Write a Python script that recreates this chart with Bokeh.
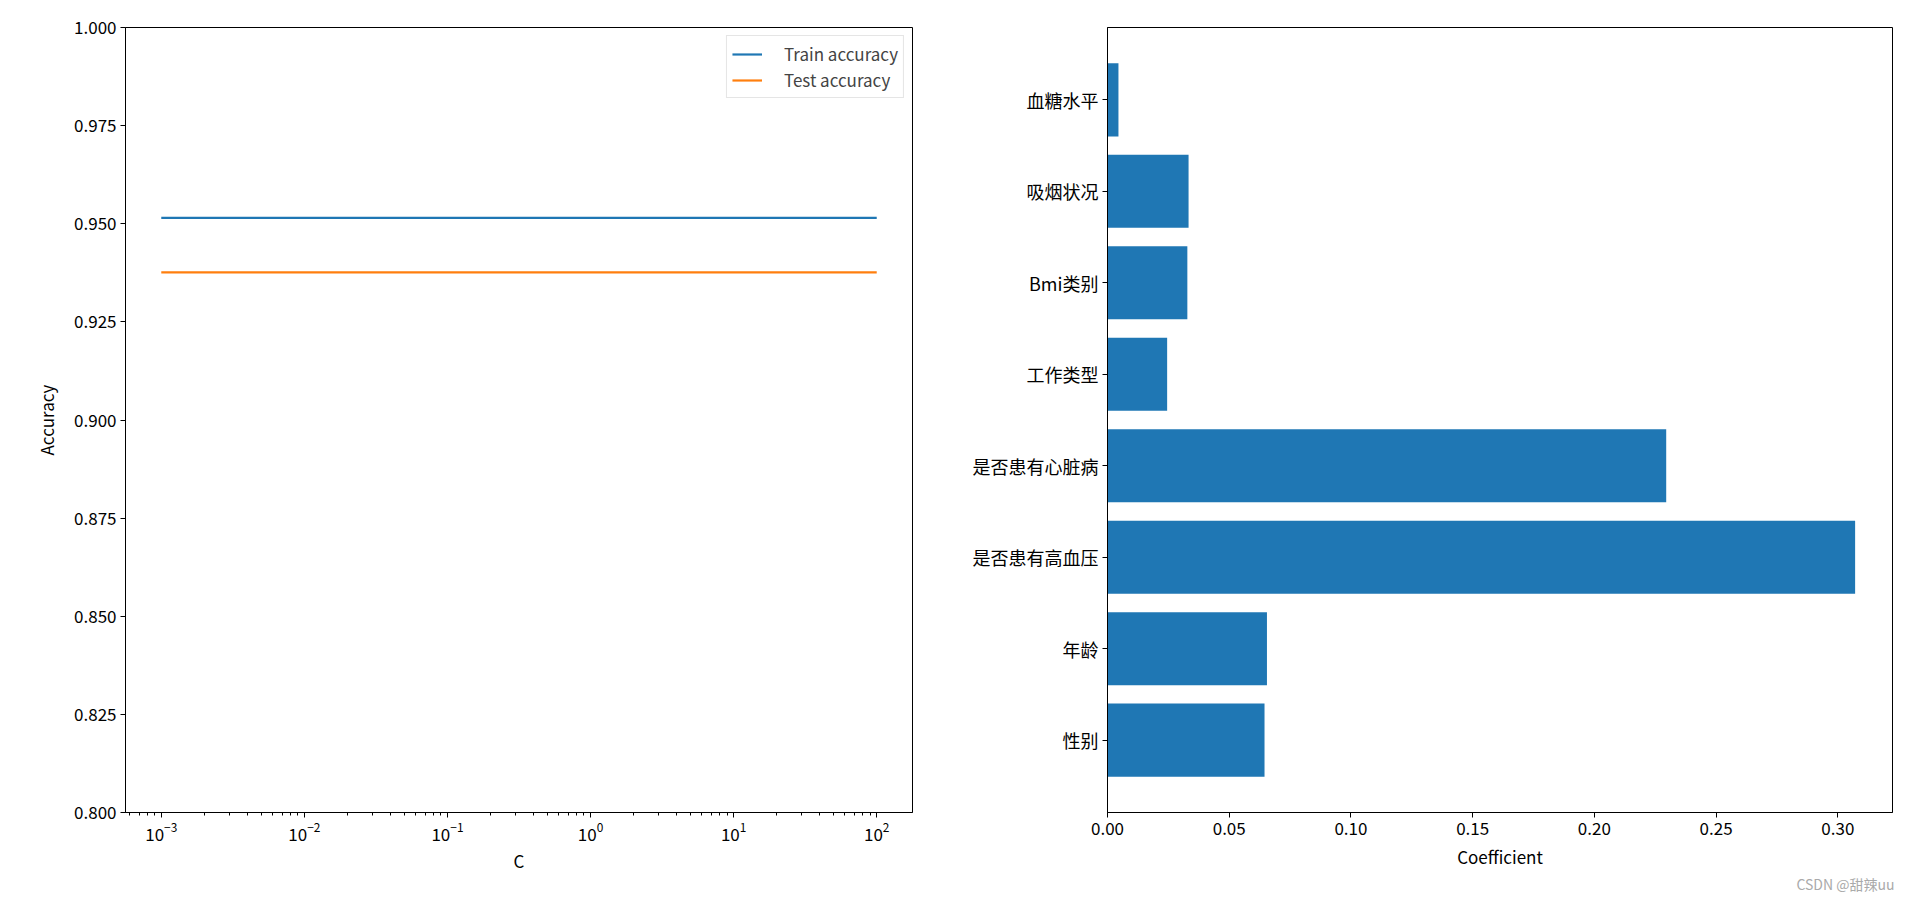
from bokeh.plotting import figure
from bokeh.layouts import row
from bokeh.models import (FixedTicker, NumeralTickFormatter, Range1d,
                          Legend, LegendItem, Title, ColumnDataSource)
from bokeh.embed import file_html
from bokeh.resources import INLINE

# ---------------- data ----------------
C_values = [0.001, 0.01, 0.1, 1, 10, 100]
train_acc = [0.9515, 0.9515, 0.9515, 0.9515, 0.9515, 0.9515]
test_acc = [0.9376, 0.9376, 0.9376, 0.9376, 0.9376, 0.9376]
acc_ticks = [0.800, 0.825, 0.850, 0.875, 0.900, 0.925, 0.950, 0.975, 1.000]

features = ["性别", "年龄", "是否患有高血压", "是否患有心脏病", "工作类型",
            "Bmi类别", "吸烟状况", "血糖水平"]
coefficients = [0.0645, 0.0655, 0.3071, 0.2295, 0.0245, 0.0328, 0.0333, 0.0045]
coef_ticks = [0.00, 0.05, 0.10, 0.15, 0.20, 0.25, 0.30]

FONT = "Noto Sans CJK SC"
FS = "17px"
BLUE = "#1f77b4"
ORANGE = "#ff7f0e"


def style(p):
    p.outline_line_color = "black"
    p.outline_line_alpha = 1
    p.outline_line_width = 1
    p.xgrid.visible = False
    p.ygrid.visible = False
    for ax in p.xaxis + p.yaxis:
        ax.major_label_text_font = FONT
        ax.major_label_text_font_size = FS
        ax.axis_label_text_font = FONT
        ax.axis_label_text_font_size = FS
        ax.axis_label_text_font_style = "normal"
        ax.major_tick_in = 0
        ax.major_tick_out = 5
        ax.minor_tick_in = 0
        ax.minor_tick_out = 3
        ax.axis_line_color = "black"
        ax.major_tick_line_color = "black"
        ax.minor_tick_line_color = "black"
        ax.major_label_text_color = "black"
        ax.axis_label_text_color = "black"


# ---------------- left: accuracy vs C ----------------
p1 = figure(width=925, height=893, x_axis_type="log",
            x_range=Range1d(10 ** -3.25, 10 ** 2.25),
            y_range=Range1d(0.8, 1.0),
            output_backend="svg", toolbar_location=None,
            min_border_left=125, min_border_right=13,
            min_border_top=27, min_border_bottom=77)
src = ColumnDataSource(dict(C=C_values, train=train_acc, test=test_acc))
r_train = p1.line("C", "train", source=src, line_color=BLUE, line_width=2.2)
r_test = p1.line("C", "test", source=src, line_color=ORANGE, line_width=2.2)

minor = []
for d in range(-4, 3):
    for m in range(2, 10):
        minor.append(m * 10.0 ** d)
p1.xaxis.ticker = FixedTicker(ticks=C_values, minor_ticks=minor)
p1.yaxis.ticker = FixedTicker(ticks=acc_ticks)
p1.yaxis.formatter = NumeralTickFormatter(format="0.000")
p1.xaxis.axis_label = "C"
p1.yaxis.axis_label = "Accuracy"
style(p1)
p1.yaxis.axis_label_standoff = 12
p1.xaxis.axis_label_standoff = 4
p1.yaxis.major_label_standoff = 4
p1.xaxis.major_label_standoff = 4
p1.yaxis.minor_tick_out = 0

legend = Legend(items=[LegendItem(label="Train accuracy", renderers=[r_train]),
                       LegendItem(label="Test accuracy", renderers=[r_test])],
                location="top_right")
legend.label_text_font = FONT
legend.label_text_font_size = FS
legend.border_line_color = "#cccccc"
legend.border_line_width = 1
legend.glyph_width = 30
legend.glyph_height = 16
legend.label_height = 16
legend.label_standoff = 22
legend.spacing = 1
legend.padding = 5
legend.margin = 8
p1.add_layout(legend)

# ---------------- right: coefficients ----------------
ypos = list(range(len(features)))
p2 = figure(width=980, height=893,
            x_range=Range1d(0, max(coefficients) * 1.05),
            y_range=Range1d(-0.79, len(features) - 1 + 0.79),
            output_backend="svg", toolbar_location=None,
            min_border_left=182, min_border_right=13,
            min_border_top=27, min_border_bottom=77)
src2 = ColumnDataSource(dict(y=ypos, coef=coefficients))
p2.hbar(y="y", right="coef", left=0, height=0.8, source=src2,
        fill_color=BLUE, line_color=None)
p2.yaxis.ticker = FixedTicker(ticks=ypos)
p2.yaxis.major_label_overrides = {i: f for i, f in zip(ypos, features)}
p2.xaxis.ticker = FixedTicker(ticks=coef_ticks)
p2.xaxis.formatter = NumeralTickFormatter(format="0.00")
p2.xaxis.axis_label = "Coefficient"
style(p2)
p2.yaxis.major_label_text_font_size = "18px"
p2.yaxis.minor_tick_out = 0
p2.xaxis.minor_tick_out = 0
p2.yaxis.major_label_standoff = 4
p2.xaxis.major_label_standoff = 4
p2.xaxis.axis_label_standoff = 6

wm = Title(text="CSDN @甜辣uu", align="right", text_font=FONT,
           text_font_size="14px", text_color="#aaaaaa",
           text_font_style="normal", standoff=0, offset=-2)
p2.add_layout(wm, "below")

layout = row(p1, p2)
open("out.html", "w").write(file_html(layout, INLINE))
